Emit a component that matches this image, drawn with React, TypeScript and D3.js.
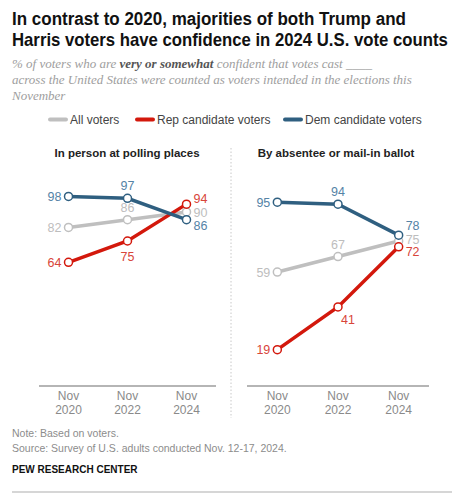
import { useLayoutEffect, useRef } from 'react';
import * as d3 from 'd3';

const years = ['2020', '2022', '2024'];
const seriesNames = ['All voters', 'Rep candidate voters', 'Dem candidate voters'];

const inPersonAll = [82, 86, 90];
const inPersonRep = [64, 75, 94];
const inPersonDem = [98, 97, 86];

const mailAll = [59, 67, 75];
const mailRep = [19, 41, 72];
const mailDem = [95, 94, 78];

const lineColors = ['#bfbfbf', '#d3180c', '#2f5f80'];
const labelColors = ['#bdbdbd', '#d8453a', '#5583a6'];

const SANS = '"Liberation Sans", Arial, sans-serif';

type Pos = 'l' | 'r' | 'a' | 'b' | 'br';
type Panel = {
  title: string;
  cx: number;
  range: [number, number];
  values: number[][];
  pos: Pos[][];
};

const panels: Panel[] = [
  {
    title: 'In person at polling places',
    cx: 127,
    range: [39, 216],
    values: [inPersonAll, inPersonRep, inPersonDem],
    pos: [
      ['l', 'a', 'r'],
      ['l', 'b', 'r'],
      ['l', 'a', 'r'],
    ],
  },
  {
    title: 'By absentee or mail-in ballot',
    cx: 336,
    range: [247, 429],
    values: [mailAll, mailRep, mailDem],
    pos: [
      ['l', 'a', 'r'],
      ['l', 'br', 'r'],
      ['l', 'a', 'r'],
    ],
  },
];

// vertical nudges so the crowded end labels don't collide (panel-point-series)
const endNudge: Record<string, number> = {
  '0-2-0': 1, '0-2-1': -6, '0-2-2': 6,
  '1-2-0': -2, '1-2-1': 5, '1-2-2': -10,
};

const y = d3.scaleLinear().domain([0, 100]).range([386.5, 192.5]);

function labelAttrs(p: Pos, px: number, py: number, nudge: number) {
  switch (p) {
    case 'l':
      return { x: px - 7, y: py + 4.5, anchor: 'end' };
    case 'r':
      return { x: px + 7, y: py + 4.5 + nudge, anchor: 'start' };
    case 'a':
      return { x: px, y: py - 8, anchor: 'middle' };
    case 'b':
      return { x: px, y: py + 20, anchor: 'middle' };
    default:
      return { x: px + 10, y: py + 17, anchor: 'middle' };
  }
}

// squeeze a text horizontally to a target width
function useFit(width: number, x: number, yPos: number) {
  const ref = useRef<SVGTextElement>(null);
  useLayoutEffect(() => {
    const el = ref.current;
    if (!el) return;
    el.removeAttribute('transform');
    const w = el.getComputedTextLength();
    const s = Math.min(1, width / w);
    el.setAttribute('transform', `translate(${x},${yPos}) scale(${s},1)`);
  }, [width, x, yPos]);
  return ref;
}

export default function App() {
  const line = d3.line<[number, number]>().x((d) => d[0]).y((d) => d[1]);
  const legendX = [50, 137, 285];
  const t1 = useFit(394, 12, 25);
  const t2 = useFit(436, 12, 46);
  const s2 = useFit(431, 12, 84);

  return (
    <svg
      width={459}
      height={496}
      style={{ position: 'absolute', left: 0, top: 0, background: '#fff' }}
      fontFamily={SANS}
    >
      <text ref={t1} transform="translate(12,25)" fontSize={17.5} fontWeight="bold" fill="#111">
        In contrast to 2020, majorities of both Trump and
      </text>
      <text ref={t2} transform="translate(12,46)" fontSize={17.5} fontWeight="bold" fill="#111">
        Harris voters have confidence in 2024 U.S. vote counts
      </text>

      <g fontFamily='"Liberation Serif", "DejaVu Serif", serif' fontStyle="italic" fontSize={13} fill="#9e9e9e">
        <text x={12} y={68}>
          % of voters who are <tspan fontWeight="bold" fill="#555">very or somewhat</tspan> confident that votes cast ____
        </text>
        <text ref={s2} transform="translate(12,84)">
          across the United States were counted as voters intended in the elections this
        </text>
        <text x={12} y={100}>November</text>
      </g>

      <g fontSize={12} fill="#444">
        {seriesNames.map((n, i) => (
          <g key={n}>
            <line x1={legendX[i]} x2={legendX[i] + 16} y1={119.5} y2={119.5} stroke={lineColors[i]} strokeWidth={4} strokeLinecap="round" />
            <text x={legendX[i] + 20} y={123.5}>{n}</text>
          </g>
        ))}
      </g>

      <line x1={231} x2={231} y1={148} y2={418} stroke="#c8c8c8" strokeWidth={1} strokeDasharray="1.5,2" />

      {panels.map((panel, pi) => {
        const x = d3.scalePoint<string>().domain(years).range(panel.range).padding(0.5);
        return (
          <g key={panel.title}>
            <text x={panel.cx} y={157} textAnchor="middle" fontSize={11.5} fontWeight="bold" fill="#222">
              {panel.title}
            </text>
            <line x1={panel.range[0]} x2={panel.range[1]} y1={386} y2={386} stroke="#b5b5b5" strokeWidth={2} />
            {years.map((yr) => (
              <text key={yr} x={x(yr)} textAnchor="middle" fontSize={12} fill="#8a8a8a">
                <tspan x={x(yr)} y={400}>Nov</tspan>
                <tspan x={x(yr)} y={414}>{yr}</tspan>
              </text>
            ))}
            {panel.values.map((vals, si) => {
              const pts = vals.map((v, k) => [x(years[k])!, y(v)] as [number, number]);
              return <path key={si} d={line(pts)!} fill="none" stroke={lineColors[si]} strokeWidth={3.5} />;
            })}
            {panel.values.map((vals, si) =>
              vals.map((v, k) => (
                <circle key={`${si}-${k}`} cx={x(years[k])!} cy={y(v)} r={4} fill="#fff" stroke={lineColors[si]} strokeWidth={1.5} />
              ))
            )}
            {panel.values.map((vals, si) =>
              vals.map((v, k) => {
                const la = labelAttrs(panel.pos[si][k], x(years[k])!, y(v), endNudge[`${pi}-${k}-${si}`] ?? 0);
                return (
                  <text key={`l${si}-${k}`} x={la.x} y={la.y} textAnchor={la.anchor} fontSize={12.5} fill={labelColors[si]}>
                    {v}
                  </text>
                );
              })
            )}
          </g>
        );
      })}

      <g fontSize={10.5} fill="#8c8c8c">
        <text x={12} y={437}>Note: Based on voters.</text>
        <text x={12} y={452}>Source: Survey of U.S. adults conducted Nov. 12-17, 2024.</text>
      </g>
      <text x={12} y={473} fontSize={10} fontWeight="bold" fill="#111">PEW RESEARCH CENTER</text>
      <line x1={12} x2={452} y1={492} y2={492} stroke="#c8c8c8" strokeWidth={1.5} />
    </svg>
  );
}
